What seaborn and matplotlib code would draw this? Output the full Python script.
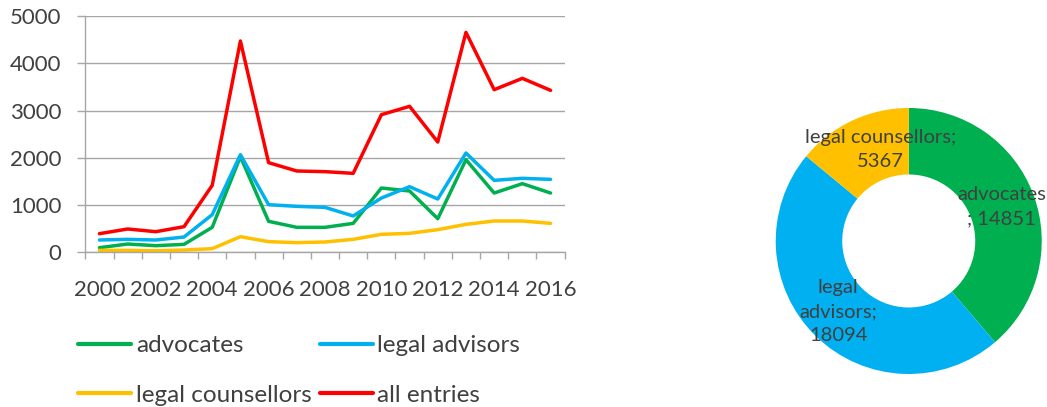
import pandas as pd
import numpy as np
import matplotlib
matplotlib.use("Agg")
import matplotlib.pyplot as plt
import seaborn as sns
from matplotlib.ticker import FixedLocator

years = list(range(2000, 2017))
advocates = [99, 176, 141, 169, 529, 2024, 656, 529, 529, 613, 1361, 1298, 712, 1960, 1255, 1453, 1255]
legal_advisors = [261, 275, 261, 324, 797, 2066, 1008, 973, 952, 769, 1149, 1389, 1128, 2101, 1523, 1566, 1544]
legal_counsellors = [42, 42, 35, 49, 78, 331, 226, 205, 219, 275, 381, 402, 480, 592, 663, 663, 613]
all_entries = [395, 494, 437, 543, 1417, 4471, 1897, 1721, 1707, 1671, 2912, 3089, 2334, 4654, 3441, 3681, 3427]

pie_labels = ["advocates", "legal advisors", "legal counsellors"]
pie_totals = [14851, 18094, 5367]

colors = {"advocates": "#00B050", "legal advisors": "#00B0F0",
          "legal counsellors": "#FFC000", "all entries": "#FF0000"}

sns.set_style("white")
plt.rcParams["font.family"] = ["Lato", "DejaVu Sans"]
txt = "#404040"
grid = "#A6A6A6"

df = pd.DataFrame({"year": years, "advocates": advocates, "legal advisors": legal_advisors,
                   "legal counsellors": legal_counsellors, "all entries": all_entries})
long = df.melt(id_vars="year", var_name="series", value_name="count")
long["pos"] = long["year"] - years[0]

fig = plt.figure(figsize=(10.47, 4.07), dpi=100)
ax = fig.add_axes([0.0815, 0.380, 0.4578, 0.5807])
sns.lineplot(data=long, x="pos", y="count", hue="series", palette=colors,
             linewidth=2.5, ax=ax, legend=False)

ax.set_xlim(-0.5, len(years) - 0.5)
ax.set_ylim(0, 5000)
ax.set_yticks(range(0, 5001, 1000))
ax.set_xticks(range(0, len(years), 2))
ax.set_xticklabels([str(y) for y in years[::2]])
ax.xaxis.set_minor_locator(FixedLocator(np.arange(-0.5, len(years), 1)))
ax.tick_params(axis="x", which="major", length=0, pad=20, labelsize=16, labelcolor=txt)
ax.tick_params(axis="x", which="minor", length=5, color=grid, width=1, bottom=True)
ax.tick_params(axis="y", length=6, color=grid, width=1, pad=11, labelsize=16, labelcolor=txt, left=True)
ax.yaxis.grid(True, color=grid, linewidth=1)
ax.set_axisbelow(True)
ax.set_xlabel("")
ax.set_ylabel("")
for s in ["top", "right"]:
    ax.spines[s].set_visible(False)
for s in ["left", "bottom"]:
    ax.spines[s].set_color(grid)
    ax.spines[s].set_linewidth(1)

order = ["advocates", "legal counsellors", "legal advisors", "all entries"]
handles = [plt.Line2D([], [], color=colors[k], linewidth=3) for k in order]
fig.legend(handles, order, loc="upper left", bbox_to_anchor=(0.0745, 0.176), ncol=2,
           frameon=False, fontsize=17.5, labelcolor=txt, borderpad=0, borderaxespad=0,
           handlelength=2.18, handletextpad=0.2, columnspacing=0.33, labelspacing=1.17)

# donut
pax = fig.add_axes([0.7409, 0.0811, 0.2541, 0.6536])
pax.pie(pie_totals, colors=[colors[k] for k in pie_labels], startangle=90, counterclock=False,
        radius=1, wedgeprops=dict(width=0.5, edgecolor="none"))
pax.set_xlim(-1, 1)
pax.set_ylim(-1, 1)
pax.set_aspect("equal")
pax.axis("off")
pie_text = {"advocates": ("advocates\n; 14851", 0.70, 0.26),
            "legal advisors": ("legal\nadvisors;\n18094", -0.53, -0.53),
            "legal counsellors": ("legal counsellors;\n5367", -0.21, 0.69)}
for k in pie_labels:
    s, x, y = pie_text[k]
    pax.text(x, y, s, ha="center", va="center", fontsize=14.5, color=txt, linespacing=1.5)

fig.savefig("out.png", dpi=100)
